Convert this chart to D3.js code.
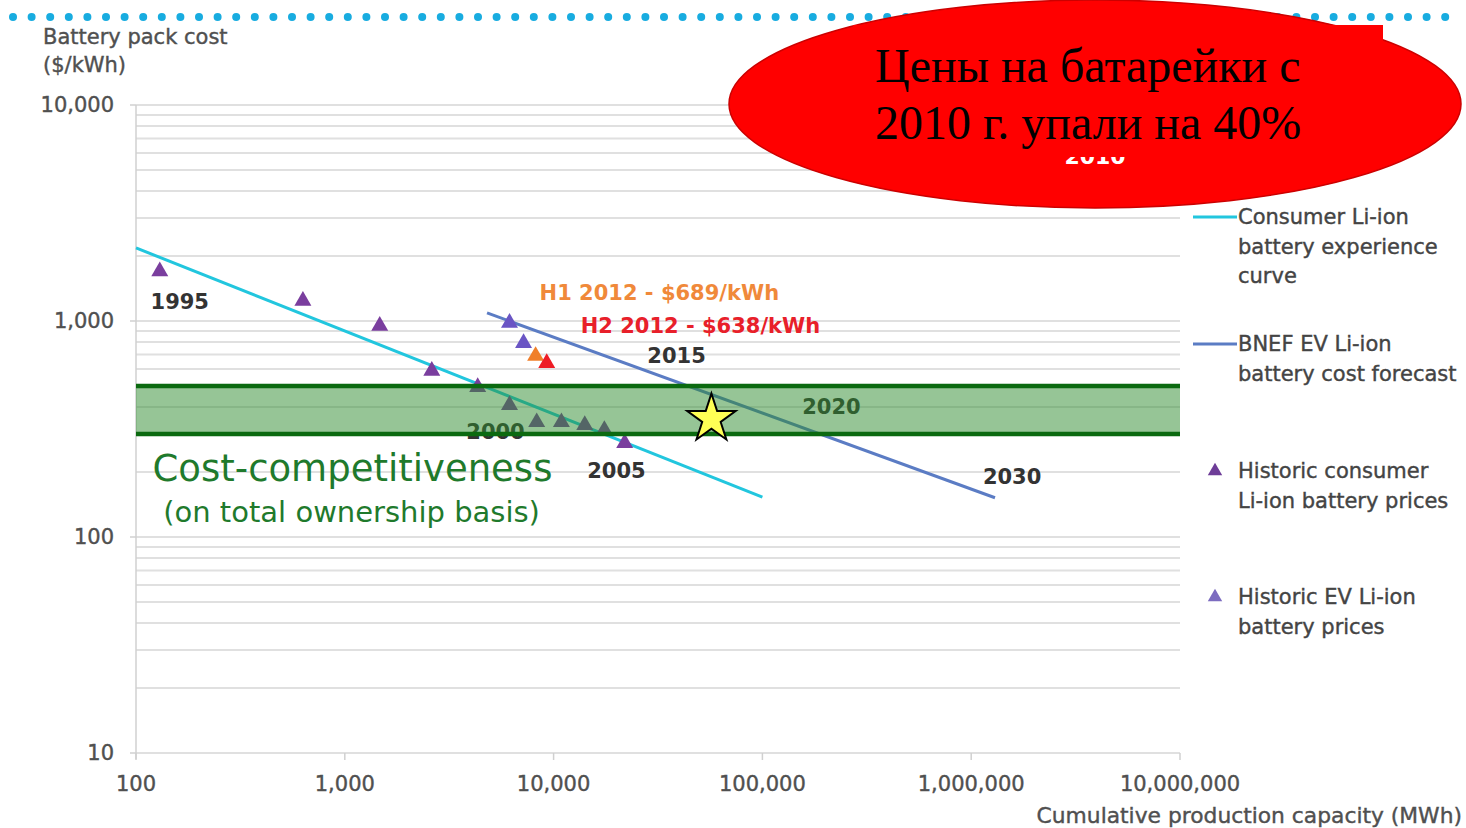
<!DOCTYPE html>
<html>
<head>
<meta charset="utf-8">
<script src="https://cdn.jsdelivr.net/npm/d3@7/dist/d3.min.js"></script>
<style>
  body { margin: 0; background: #fff; }
  svg { display: block; font-family: "DejaVu Sans", sans-serif; }
  .grid { stroke: #e0e0e0; stroke-width: 2; }
  .tick-lbl { fill: #505050; font-size: 21px; stroke: #505050; stroke-width: 0.4; }
  .yearlbl { fill: #333; font-size: 21px; font-weight: bold; }
  .legend { fill: #444; font-size: 21px; stroke: #444; stroke-width: 0.4; }
</style>
</head>
<body>
<div id="chart"></div>
<script>
// values
var yTicks = [10, 100, 1000, 10000];
var xTicks = [100, 1000, 10000, 100000, 1000000, 10000000];
var consumerCurve = [[100, 2180], [100000, 153]];
var bnefCurve = [[4800, 1090], [1300000, 152]];
var consumerPrices = [[130, 1700], [630, 1240], [1470, 950], [2610, 588], [4330, 494],
  [6150, 408], [8300, 340], [10900, 340], [14100, 330], [17500, 313], [21900, 272]];
var evPrices = [[6150, 980], [7180, 790]];
var h1Point = [8200, 689];
var h2Point = [9270, 638];
var band = [300, 500];
var star = [57000, 352];
var yearLabels = [["1995", 162, 1225], ["2000", 5270, 306], ["2005", 20000, 202],
  ["2015", 38800, 689], ["2020", 214000, 400], ["2030", 1570000, 190]];
var legendLines = [["Consumer Li-ion", "battery experience", "curve"],
  ["BNEF EV Li-ion", "battery cost forecast"]];
var legendTris = [["Historic consumer", "Li-ion battery prices"],
  ["Historic EV Li-ion", "battery prices"]];

var width = 1466, height = 828;
var svg = d3.select("#chart").append("svg").attr("width", width).attr("height", height);

var x = d3.scaleLog().domain([100, 10000000]).range([136, 1180]);
var y = d3.scaleLog().domain([10, 10000]).range([753, 105]);
var fmt = d3.format(",");

// dotted rule at the top
var dots = d3.range(13, 1450, 18.6);
svg.append("g").selectAll("circle").data(dots).enter().append("circle")
  .attr("cx", function(d) { return d; }).attr("cy", 17).attr("r", 4)
  .attr("fill", "#18ace0");

// minor + major grid
var gridVals = [];
for (var e = 1; e <= 3; e++) {
  for (var m = 1; m <= 9; m++) gridVals.push(m * Math.pow(10, e));
}
gridVals.push(10000);
svg.append("g").selectAll("line").data(gridVals).enter().append("line")
  .attr("class", "grid")
  .attr("x1", x.range()[0]).attr("x2", x.range()[1])
  .attr("y1", function(d) { return y(d); }).attr("y2", function(d) { return y(d); });

// axes
svg.append("line").attr("x1", 136).attr("x2", 136).attr("y1", y(10000)).attr("y2", y(10) + 6)
  .attr("stroke", "#d0d0d0").attr("stroke-width", 1.5);
svg.append("g").selectAll("line").data(yTicks).enter().append("line")
  .attr("x1", 130).attr("x2", 136)
  .attr("y1", function(d) { return y(d); }).attr("y2", function(d) { return y(d); })
  .attr("stroke", "#d0d0d0").attr("stroke-width", 1.5);
svg.append("g").selectAll("line").data(xTicks).enter().append("line")
  .attr("x1", function(d) { return x(d); }).attr("x2", function(d) { return x(d); })
  .attr("y1", y(10)).attr("y2", y(10) + 7)
  .attr("stroke", "#d0d0d0").attr("stroke-width", 1.5);

svg.append("g").selectAll("text").data(yTicks).enter().append("text")
  .attr("class", "tick-lbl").attr("text-anchor", "end")
  .attr("x", 114).attr("y", function(d) { return y(d); }).attr("dy", "0.35em")
  .text(function(d) { return fmt(d); });
svg.append("g").selectAll("text").data(xTicks).enter().append("text")
  .attr("class", "tick-lbl").attr("text-anchor", "middle")
  .attr("x", function(d) { return x(d); }).attr("y", 784).attr("dy", "0.35em")
  .text(function(d) { return fmt(d); });

svg.append("text").attr("class", "tick-lbl").attr("text-anchor", "end")
  .attr("x", 1462).attr("y", 815).attr("dy", "0.35em").style("font-size", "21.8px")
  .text("Cumulative production capacity (MWh)");
svg.append("text").attr("class", "tick-lbl").attr("x", 43).attr("y", 37).attr("dy", "0.35em")
  .text("Battery pack cost");
svg.append("text").attr("class", "tick-lbl").attr("x", 43).attr("y", 65).attr("dy", "0.35em")
  .text("($/kWh)");

// curves
var line = d3.line().x(function(d) { return x(d[0]); }).y(function(d) { return y(d[1]); });
svg.append("path").attr("d", line(consumerCurve)).attr("fill", "none")
  .attr("stroke", "#22c6de").attr("stroke-width", 3);
svg.append("path").attr("d", line(bnefCurve)).attr("fill", "none")
  .attr("stroke", "#5b7cc4").attr("stroke-width", 3);

// triangles
var tri = d3.symbol().type(d3.symbolTriangle).size(125);
function tris(data, color) {
  svg.append("g").selectAll("path").data(data).enter().append("path")
    .attr("d", tri)
    .attr("transform", function(d) { return "translate(" + x(d[0]) + "," + y(d[1]) + ")"; })
    .attr("fill", color);
}
tris(consumerPrices, "#7a3e9e");
tris(evPrices, "#6a55c4");
tris([h1Point], "#f07f2a");
tris([h2Point], "#ee1c25");

// year labels (under the band)
svg.append("g").selectAll("text").data(yearLabels).enter().append("text")
  .attr("class", "yearlbl").attr("text-anchor", "middle")
  .attr("x", function(d) { return x(d[1]); }).attr("y", function(d) { return y(d[2]); })
  .attr("dy", "0.35em").text(function(d) { return d[0]; });

svg.append("text").attr("class", "yearlbl").style("fill", "#f0893a")
  .attr("text-anchor", "middle").attr("x", x(32100)).attr("y", y(1349)).attr("dy", "0.35em")
  .text("H1 2012 - $689/kWh");
svg.append("text").attr("class", "yearlbl").style("fill", "#e8202a")
  .attr("text-anchor", "middle").attr("x", x(50500)).attr("y", y(949)).attr("dy", "0.35em")
  .text("H2 2012 - $638/kWh");

// cost-competitiveness band
svg.append("rect").attr("x", x.range()[0]).attr("width", x.range()[1] - x.range()[0])
  .attr("y", y(band[1])).attr("height", y(band[0]) - y(band[1]))
  .attr("fill", "#2e8b2e").attr("fill-opacity", 0.5);
svg.append("g").selectAll("line").data(band).enter().append("line")
  .attr("x1", x.range()[0]).attr("x2", x.range()[1])
  .attr("y1", function(d) { return y(d); }).attr("y2", function(d) { return y(d); })
  .attr("stroke", "#0b6a10").attr("stroke-width", 4.5);

svg.append("text").attr("x", x(120)).attr("y", y(208)).attr("dy", "0.35em")
  .attr("fill", "#1f7a2c").style("font-size", "37px").text("Cost-competitiveness");
svg.append("text").attr("x", x(135)).attr("y", y(131)).attr("dy", "0.35em")
  .attr("fill", "#1f7a2c").style("font-size", "29px").text("(on total ownership basis)");

svg.append("path").attr("d", d3.symbol().type(d3.symbolStar).size(725))
  .attr("transform", "translate(" + x(star[0]) + "," + y(star[1]) + ")")
  .attr("fill", "#ffff55").attr("stroke", "#000").attr("stroke-width", 2);

// legend
var lineColors = ["#22c6de", "#5b7cc4"];
var lineY = [217, 344];
legendLines.forEach(function(rows, i) {
  svg.append("line").attr("x1", 1193).attr("x2", 1237).attr("y1", lineY[i]).attr("y2", lineY[i])
    .attr("stroke", lineColors[i]).attr("stroke-width", 3);
  rows.forEach(function(r, j) {
    svg.append("text").attr("class", "legend").attr("x", 1238).attr("y", lineY[i] + j * 29.5)
      .attr("dy", "0.35em").text(r);
  });
});
var triColors = ["#6e3d98", "#7c6cc0"];
var triY = [471, 597];
legendTris.forEach(function(rows, i) {
  svg.append("path").attr("d", d3.symbol().type(d3.symbolTriangle).size(90))
    .attr("transform", "translate(1215," + triY[i] + ")").attr("fill", triColors[i]);
  rows.forEach(function(r, j) {
    svg.append("text").attr("class", "legend").attr("x", 1238).attr("y", triY[i] + j * 29.5)
      .attr("dy", "0.35em").text(r);
  });
});

// red callout
svg.append("ellipse").attr("cx", 1095).attr("cy", 104).attr("rx", 366).attr("ry", 104)
  .attr("fill", "#ff0000").attr("stroke", "#cc0000").attr("stroke-width", 1.5);
svg.append("text").attr("x", 1095).attr("y", 164).attr("text-anchor", "middle")
  .attr("fill", "#fff").style("font-size", "22px").style("font-weight", "bold").text("2010");
svg.append("rect").attr("x", 853).attr("y", 25).attr("width", 530).attr("height", 132)
  .attr("fill", "#ff0000");
var callout = ["Цены на батарейки с", "2010 г. упали на 40%"];
svg.append("g").selectAll("text").data(callout).enter().append("text")
  .attr("x", 875).attr("y", function(d, i) { return 82 + i * 57; })
  .attr("fill", "#000").style("font-family", "'Liberation Serif', 'Times New Roman', serif")
  .style("font-size", "48px").text(function(d) { return d; });
</script>
</body>
</html>
